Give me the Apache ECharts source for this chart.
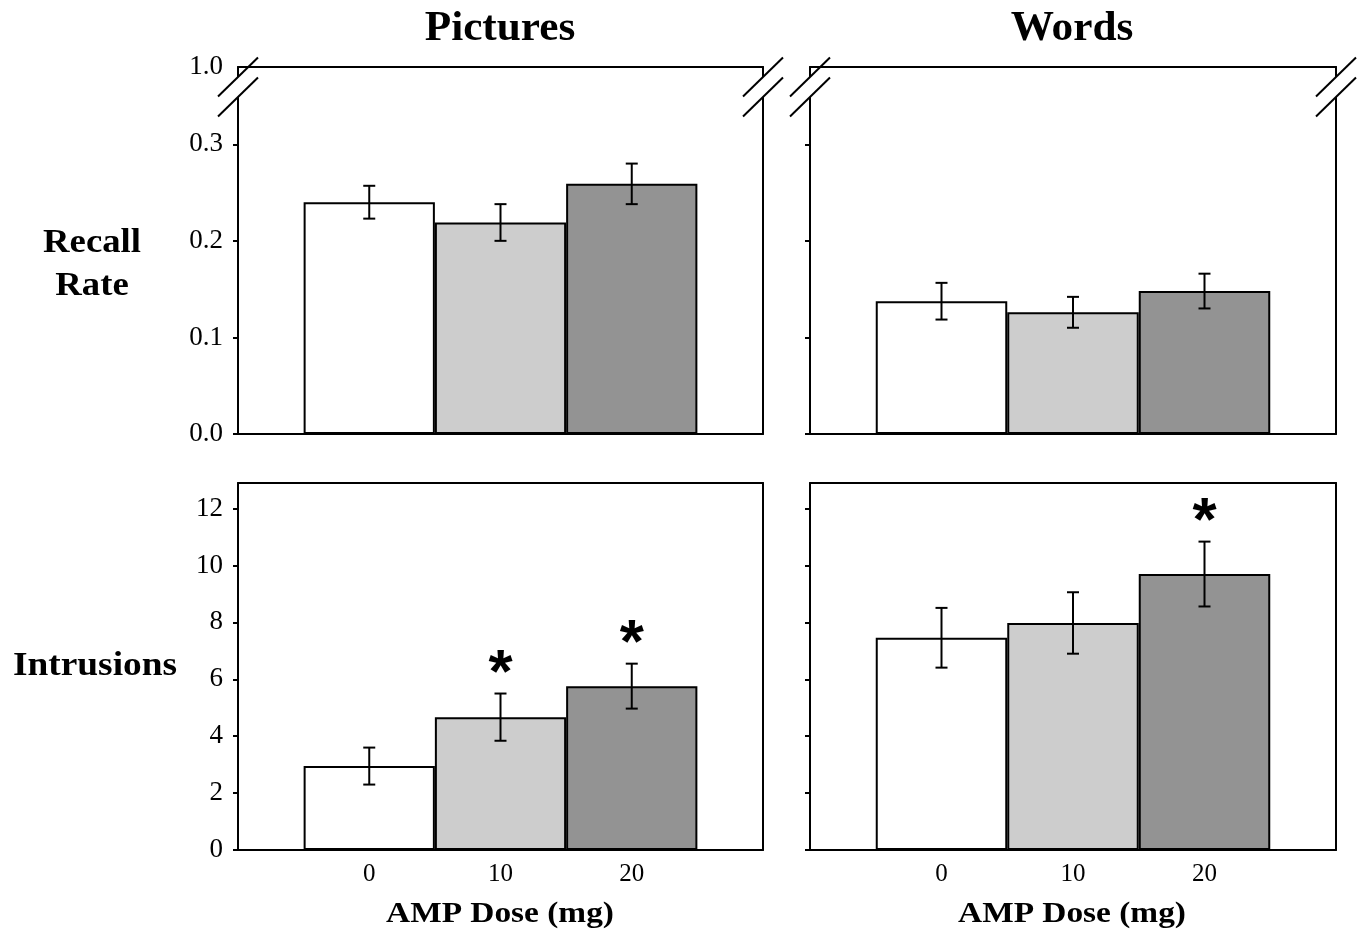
<!DOCTYPE html>
<html>
<head>
<meta charset="utf-8">
<title>Recall and intrusions by AMP dose</title>
<script src="https://cdn.jsdelivr.net/npm/echarts@6/dist/echarts.min.js"></script>
<style>
  html, body { margin: 0; padding: 0; background: #fff; }
  #main { width: 1364px; height: 933px; }
</style>
</head>
<body>
<div id="main"></div>
<script>
// dose groups, drawn at x = 0, 1, 2 on a value axis that runs -1..3
var doses = ['0', '10', '20'];
var barColors = ['#ffffff', '#cdcdcd', '#939393'];

// recall rate (mean, s.e.)
var recallPictures = [0.240, 0.219, 0.259];
var recallPicturesErr = [0.017, 0.019, 0.021];
var recallWords = [0.1375, 0.126, 0.148];
var recallWordsErr = [0.019, 0.016, 0.018];

// intrusions (mean, s.e.)
var intrPictures = [2.95, 4.67, 5.76];
var intrPicturesErr = [0.65, 0.83, 0.79];
var intrWords = [7.46, 7.98, 9.70];
var intrWordsErr = [1.05, 1.08, 1.14];

// asterisks (1 = significant)
var sigPictures = [0, 1, 1];
var sigWords = [0, 0, 1];

// axis ticks
var recallTicks = [0, 0.1, 0.2, 0.3];
var recallTop = 0.38;      // top of broken axis, stands for 1.0
var recallTopLabel = '1.0';
var intrTicks = [0, 2, 4, 6, 8, 10, 12];
var intrMax = 12.9;

var SERIF = '"Liberation Serif", "Times New Roman", serif';
var LINE = {color: '#000', width: 2};

var chart = echarts.init(document.getElementById('main'));

var panels = [
    {grid: {left: 238, top: 67, width: 525, height: 367}, vals: recallPictures, err: recallPicturesErr, sig: null,
     max: recallTop, ticks: recallTicks, yLabels: true, xLabels: false},
    {grid: {left: 810, top: 67, width: 526, height: 367}, vals: recallWords, err: recallWordsErr, sig: null,
     max: recallTop, ticks: recallTicks, yLabels: false, xLabels: false},
    {grid: {left: 238, top: 483, width: 525, height: 367}, vals: intrPictures, err: intrPicturesErr, sig: sigPictures,
     max: intrMax, ticks: intrTicks, yLabels: true, xLabels: true},
    {grid: {left: 810, top: 483, width: 526, height: 367}, vals: intrWords, err: intrWordsErr, sig: sigWords,
     max: intrMax, ticks: intrTicks, yLabels: false, xLabels: true}
];

var grids = [], xAxes = [], yAxes = [], series = [];

panels.forEach(function (p, i) {
    grids.push(Object.assign({show: false}, p.grid));

    // bottom axis with dose labels
    xAxes.push({
        gridIndex: i, type: 'value', min: -1, max: 3,
        axisLine: {show: true, lineStyle: LINE, onZero: false},
        axisTick: {show: false},
        splitLine: {show: false},
        axisLabel: {
            show: p.xLabels, customValues: [0, 1, 2], margin: 12,
            fontFamily: SERIF, fontSize: 25, color: '#000',
            formatter: function (v) { return doses[Math.round(v)]; }
        }
    });
    // top frame line
    xAxes.push({
        gridIndex: i, type: 'value', min: -1, max: 3, position: 'top',
        axisLine: {show: true, lineStyle: LINE, onZero: false},
        axisTick: {show: false}, axisLabel: {show: false}, splitLine: {show: false}
    });

    var labelVals = p.max === recallTop ? recallTicks.concat([recallTop]) : p.ticks;
    yAxes.push({
        gridIndex: i, type: 'value', min: 0, max: p.max,
        axisLine: {show: true, lineStyle: LINE, onZero: false},
        axisTick: {show: true, inside: false, length: 5, lineStyle: LINE, customValues: p.ticks},
        splitLine: {show: false},
        axisLabel: {
            show: p.yLabels, customValues: labelVals, margin: 15,
            fontFamily: SERIF, fontSize: 27, color: '#000',
            formatter: function (v) {
                if (p.max === recallTop) {
                    return v > 0.35 ? recallTopLabel : v.toFixed(1);
                }
                return String(v);
            }
        }
    });
    // right frame line
    yAxes.push({
        gridIndex: i, type: 'value', min: 0, max: p.max, position: 'right',
        axisLine: {show: true, lineStyle: LINE, onZero: false},
        axisTick: {show: false}, axisLabel: {show: false}, splitLine: {show: false}
    });

    series.push({
        type: 'bar', xAxisIndex: 2 * i, yAxisIndex: 2 * i,
        barWidth: p.grid.width / 4,
        itemStyle: {borderColor: '#000', borderWidth: 2},
        data: p.vals.map(function (v, k) {
            return {value: [k, v], itemStyle: {color: barColors[k]}};
        }),
        silent: true
    });

    series.push({
        type: 'custom', xAxisIndex: 2 * i, yAxisIndex: 2 * i,
        encode: {x: 0, y: 1},
        data: p.vals.map(function (v, k) {
            return [k, v, p.err[k], p.sig ? p.sig[k] : 0];
        }),
        renderItem: function (params, api) {
            var x = api.value(0), m = api.value(1), e = api.value(2);
            var hi = api.coord([x, m + e]);
            var lo = api.coord([x, m - e]);
            var cap = 6;
            var st = {stroke: '#000', lineWidth: 2};
            var kids = [
                {type: 'line', shape: {x1: hi[0], y1: hi[1], x2: lo[0], y2: lo[1]}, style: st},
                {type: 'line', shape: {x1: hi[0] - cap, y1: hi[1], x2: hi[0] + cap, y2: hi[1]}, style: st},
                {type: 'line', shape: {x1: lo[0] - cap, y1: lo[1], x2: lo[0] + cap, y2: lo[1]}, style: st}
            ];
            if (api.value(3) === 1) {
                kids.push({
                    type: 'text', x: hi[0], y: hi[1] - 31 + 12,
                    style: {text: '*', fontFamily: '"Liberation Sans", Arial, sans-serif', fontWeight: 'bold',
                            fontSize: 62, fill: '#000', align: 'center', verticalAlign: 'middle'}
                });
            }
            return {type: 'group', children: kids};
        },
        z: 5, silent: true
    });
});

function txt(x, y, s, size, sx) {
    return {
        type: 'text', x: x, y: y, z: 50, scaleX: sx || 1,
        style: {text: s, fontFamily: SERIF, fontWeight: 'bold', fontSize: size, fill: '#000',
                align: 'center', verticalAlign: 'middle'}
    };
}

chart.setOption({
    animation: false,
    backgroundColor: '#fff',
    grid: grids,
    xAxis: xAxes,
    yAxis: yAxes,
    series: series
});

// labels and axis-break marks
var g = [
    txt(500, 29, 'Pictures', 42, 1.03),
    txt(1072, 29, 'Words', 42, 1.03),
    txt(92, 243, 'Recall', 34, 1.08),
    txt(92, 286, 'Rate', 34, 1.08),
    txt(95, 666, 'Intrusions', 34, 1.1),
    txt(500, 915, 'AMP Dose (mg)', 29, 1.15),
    txt(1072, 915, 'AMP Dose (mg)', 29, 1.15)
];

[0, 1].forEach(function (i) {
    var a = chart.convertToPixel({gridIndex: i}, [-1, recallTop]);
    var b = chart.convertToPixel({gridIndex: i}, [3, recallTop]);
    [a[0], b[0]].forEach(function (x) {
        var yU = a[1] + 10, yL = a[1] + 30;
        g.push({type: 'rect', z: 100, shape: {x: x - 3, y: yU, width: 6, height: yL - yU}, style: {fill: '#fff'}});
        g.push({type: 'line', z: 101, shape: {x1: x - 20, y1: yU + 19.5, x2: x + 20, y2: yU - 19.5},
                style: {stroke: '#000', lineWidth: 2}});
        g.push({type: 'line', z: 101, shape: {x1: x - 20, y1: yL + 19.5, x2: x + 20, y2: yL - 19.5},
                style: {stroke: '#000', lineWidth: 2}});
    });
});

chart.setOption({graphic: g});
</script>
</body>
</html>
